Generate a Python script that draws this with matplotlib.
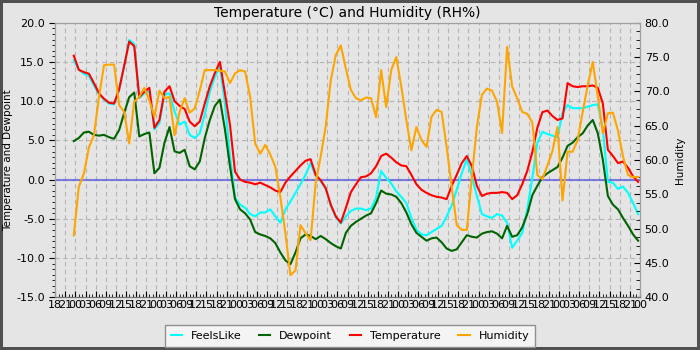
import datetime as dt

import numpy as np
import matplotlib
matplotlib.use("Agg")
import matplotlib.pyplot as plt
import matplotlib.dates as mdates
from matplotlib.ticker import MultipleLocator, AutoMinorLocator, FormatStrFormatter

START = dt.datetime(2024, 1, 1, 18, 0)
END_HOURS = 174

# readings every 90 minutes, hours after START
hours = np.arange(5.5, 174.0, 1.5)

temperature = [
    15.8, 14.0, 13.7, 13.5, 12.3, 11.0, 10.3, 9.8, 9.7, 11.5,
    14.5, 17.6, 17.0, 10.5, 11.2, 11.7, 6.6, 7.6, 11.2, 11.9,
    10.0, 9.4, 9.0, 7.4, 6.8, 7.4, 9.7, 11.9, 13.6, 15.0,
    11.0, 7.0, 1.0, 0.0, -0.3, -0.4, -0.6, -0.4, -0.7, -1.0,
    -1.4, -1.6, -0.4, 0.4, 1.1, 1.8, 2.4, 2.6, 0.6, -0.1,
    -1.1, -3.2, -4.7, -5.5, -3.6, -1.6, -0.6, 0.3, 0.4, 0.8,
    1.7, 3.0, 3.3, 2.8, 2.2, 1.8, 1.7, 0.6, -0.6, -1.3,
    -1.7, -2.0, -2.2, -2.3, -2.5, -0.8, 0.6, 2.1, 3.0, 1.7,
    -0.8, -2.1, -1.8, -1.7, -1.7, -1.6, -1.7, -2.5, -2.0, -0.6,
    1.1, 3.5, 6.6, 8.6, 8.8, 8.1, 7.6, 7.8, 12.3, 11.9,
    11.8, 11.9, 11.9, 12.0, 11.7, 9.7, 3.8, 3.0, 2.1, 2.3,
    1.5, 0.4, -0.3,
]

feels_like = [
    15.2, 14.0, 13.5, 13.2, 12.0, 10.9, 10.2, 9.7, 9.6, 11.4,
    14.5, 17.8, 17.3, 10.4, 11.0, 11.3, 6.4, 7.2, 10.8, 11.0,
    8.7, 7.0, 7.4, 5.7, 5.3, 5.9, 8.3, 11.2, 13.1, 14.4,
    9.7, 3.0, -2.3, -3.2, -3.6, -4.4, -4.7, -4.2, -4.2, -3.8,
    -4.7, -5.5, -3.8, -2.8, -1.7, -0.6, 0.6, 2.1, 0.5, -0.2,
    -1.2, -3.3, -4.8, -5.6, -4.7, -4.0, -3.7, -3.7, -3.9, -3.7,
    -2.3, 1.1, 0.2, -0.5, -1.5, -2.2, -3.0, -4.9, -6.4, -7.0,
    -7.1, -6.7, -6.3, -5.9, -4.7, -3.3, -1.3, 0.8, 2.6, 0.4,
    -2.1, -4.4, -4.7, -4.9, -4.4, -4.6, -5.5, -8.7, -7.8, -6.8,
    -3.8, 0.2, 4.7, 6.1, 5.8, 5.6, 5.4, 8.5, 9.5, 9.1,
    9.1, 9.1, 9.3, 9.5, 9.6, 6.4, -0.3, -0.4, -1.2, -0.9,
    -1.7, -3.0, -4.4,
]

dewpoint = [
    4.9, 5.3, 6.0, 6.1, 5.7, 5.6, 5.7, 5.4, 5.2, 6.3,
    8.5, 10.5, 11.1, 5.5, 5.8, 6.0, 0.8, 1.5, 4.7, 6.7,
    3.6, 3.4, 3.8, 1.7, 1.3, 2.3, 5.3, 7.6, 9.4, 10.2,
    6.4, 1.7, -2.5, -3.8, -4.3, -5.1, -6.7, -7.0, -7.2, -7.5,
    -8.1, -9.3, -10.3, -10.8, -9.3, -7.5, -7.0, -7.2, -7.6, -7.2,
    -7.6, -8.1, -8.5, -8.8, -6.8, -5.9, -5.4, -5.0, -4.6, -4.3,
    -3.0, -1.4, -1.8, -1.9, -2.2, -3.0, -4.2, -5.7, -6.8, -7.3,
    -7.8, -7.5, -7.4, -8.0, -8.8, -9.1, -8.9, -8.0, -7.1, -7.3,
    -7.4, -6.9, -6.7, -6.6, -6.9, -7.5, -5.9, -7.3, -7.1, -6.1,
    -4.4, -2.0, -0.8, 0.3, 0.8, 1.2, 1.6, 2.8, 4.3, 4.7,
    5.4, 5.9, 6.9, 7.6, 5.9, 2.5, -2.1, -3.2, -3.8, -4.9,
    -5.9, -7.0, -7.8,
]

humidity = [
    49.0, 56.1, 58.0, 61.8, 63.6, 69.2, 73.8, 73.9, 73.9, 68.0,
    67.0, 62.4, 68.5, 69.2, 70.5, 68.7, 66.3, 70.1, 69.0, 69.2,
    63.6, 67.0, 69.0, 66.9, 67.5, 70.1, 73.1, 73.1, 73.1, 73.0,
    72.9, 71.2, 72.6, 73.1, 72.9, 69.2, 62.4, 60.9, 62.2, 60.8,
    59.0, 54.6, 49.3, 43.2, 43.9, 50.5, 49.3, 48.3, 56.6, 60.5,
    64.9, 71.6, 75.3, 76.7, 73.3, 70.2, 69.0, 68.7, 69.1, 69.0,
    66.2, 73.1, 67.7, 73.1, 75.0, 70.7, 65.8, 61.4, 64.8, 62.9,
    61.9, 66.3, 67.3, 67.0, 61.9, 56.1, 50.5, 49.8, 49.8, 57.5,
    64.8, 69.5, 70.4, 70.1, 68.5, 63.9, 76.5, 70.7, 69.0, 67.0,
    66.7, 65.5, 57.8, 57.2, 59.2, 61.3, 64.8, 54.1, 61.2, 61.2,
    62.9, 67.0, 70.9, 74.3, 69.2, 63.9, 66.8, 66.9, 64.3, 60.5,
    57.8, 57.5, 57.5,
]

times = [START + dt.timedelta(hours=float(h)) for h in hours]

BG = '#e5e5e5'
fig = plt.figure(figsize=(7, 3.5), dpi=100)
fig.patch.set_facecolor(BG)
fig.patch.set_edgecolor('#505050')
fig.patch.set_linewidth(4)

ax = fig.add_axes([0.079, 0.151, 0.835, 0.784])
ax.set_facecolor(BG)

ax.axhline(0, color='#5a5ae0', lw=1.5, alpha=0.75, zorder=1)
l1, = ax.plot(times, feels_like, color='cyan', lw=1.5, label='FeelsLike', zorder=2)
l2, = ax.plot(times, dewpoint, color='#006400', lw=1.5, label='Dewpoint', zorder=3)
l3, = ax.plot(times, temperature, color='red', lw=1.5, label='Temperature', zorder=4)

ax2 = ax.twinx()
l4, = ax2.plot(times, humidity, color='orange', lw=1.5, label='Humidity')

ax.set_xlim(START, START + dt.timedelta(hours=END_HOURS))
ax.set_ylim(-15, 20)
ax2.set_ylim(40, 80)

ax.xaxis.set_major_locator(mdates.HourLocator(byhour=range(0, 24, 3)))
ax.xaxis.set_major_formatter(mdates.DateFormatter('%H'))
ax.xaxis.set_minor_locator(mdates.HourLocator())

ax.yaxis.set_major_locator(MultipleLocator(5))
ax.yaxis.set_major_formatter(FormatStrFormatter('%.1f'))
ax.yaxis.set_minor_locator(AutoMinorLocator(7))
ax2.yaxis.set_major_locator(MultipleLocator(5))
ax2.yaxis.set_major_formatter(FormatStrFormatter('%.1f'))
ax2.yaxis.set_minor_locator(AutoMinorLocator(4))

ax.tick_params(axis='x', which='both', direction='in', labelsize=8, pad=2)
ax.tick_params(axis='x', which='major', length=4)
ax.tick_params(axis='x', which='minor', length=2)
ax.tick_params(axis='y', which='major', direction='out', length=4, labelsize=8)
ax.tick_params(axis='y', which='minor', direction='out', length=2)
ax2.tick_params(axis='y', which='major', direction='in', length=4, labelsize=8)
ax2.tick_params(axis='y', which='minor', direction='in', length=3)

ax.grid(True, which='major', color='#b4b4b4', linestyle=(0, (4, 3)), lw=0.8)
ax.set_axisbelow(True)

for a in (ax, ax2):
    for side in ('top', 'right', 'left'):
        a.spines[side].set_color('#a0a0a0')
    a.spines['bottom'].set_color('#707070')

ax.set_title('Temperature (°C) and Humidity (RH%)', fontsize=10, pad=4)
ax.set_ylabel('Temperature and Dewpoint', fontsize=7.5, labelpad=2)
ax2.set_ylabel('Humidity', fontsize=7.5, labelpad=4)

leg = fig.legend([l1, l2, l3, l4], ['FeelsLike', 'Dewpoint', 'Temperature', 'Humidity'],
                 loc='lower center', bbox_to_anchor=(0.5, -0.006), ncol=4, fontsize=8,
                 fancybox=False, edgecolor='#909090', facecolor='#f4f4f4', framealpha=1,
                 handlelength=1.0, handletextpad=0.8, columnspacing=1.6, borderpad=0.5)
leg.get_frame().set_linewidth(1.0)

fig.savefig('out.png', dpi=100, facecolor=fig.get_facecolor(), edgecolor=fig.get_edgecolor())
